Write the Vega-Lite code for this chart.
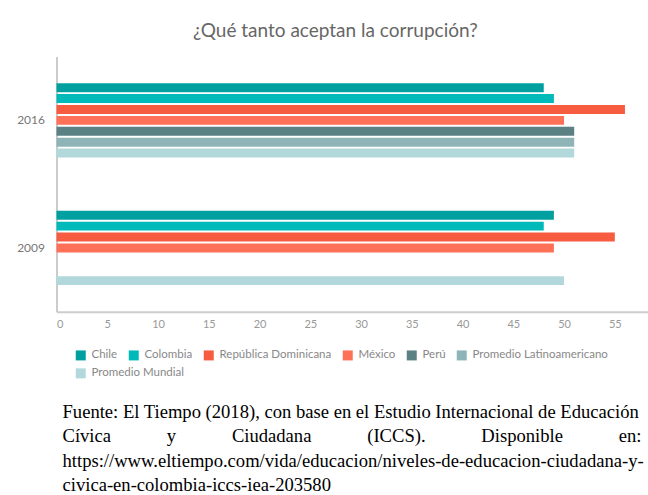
{
  "$schema": "https://vega.github.io/schema/vega-lite/v6.json",
  "autosize": {"type": "none"},
  "padding": {"left": 56.5, "top": 56.6, "right": 0, "bottom": 183.3},
  "width": 591.5,
  "height": 255.1,
  "background": "white",
  "title": {
    "text": "¿Qué tanto aceptan la corrupción?",
    "font": "Lato",
    "fontSize": 19,
    "fontWeight": "normal",
    "color": "#666666",
    "anchor": "middle",
    "frame": "group",
    "dx": -17,
    "offset": 16
  },
  "data": {
    "values": [
      {"year": "2016", "serie": "Chile", "valor": 48},
      {"year": "2016", "serie": "Colombia", "valor": 49},
      {"year": "2016", "serie": "República Dominicana", "valor": 56},
      {"year": "2016", "serie": "México", "valor": 50},
      {"year": "2016", "serie": "Perú", "valor": 51},
      {"year": "2016", "serie": "Promedio Latinoamericano", "valor": 51},
      {"year": "2016", "serie": "Promedio Mundial", "valor": 51},
      {"year": "2009", "serie": "Chile", "valor": 49},
      {"year": "2009", "serie": "Colombia", "valor": 48},
      {"year": "2009", "serie": "República Dominicana", "valor": 55},
      {"year": "2009", "serie": "México", "valor": 49},
      {"year": "2009", "serie": "Promedio Mundial", "valor": 50}
    ]
  },
  "encoding": {
    "y": {
      "field": "year",
      "type": "nominal",
      "scale": {"domain": ["2016", "2009"], "paddingInner": 0, "paddingOuter": 0},
      "axis": {
        "title": null,
        "domain": true,
        "domainColor": "#cccccc",
        "domainWidth": 2,
        "ticks": false,
        "tickSize": 0,
        "labelPadding": 12,
        "labelFont": "Lato",
        "labelFontSize": 12,
        "labelColor": "#777777"
      }
    },
    "yOffset": {
      "field": "serie",
      "type": "nominal",
      "scale": {
        "domain": ["_a", "_b", "Chile", "Colombia", "República Dominicana", "México", "Perú", "Promedio Latinoamericano", "Promedio Mundial", "_c", "_d"],
        "paddingInner": 0.18,
        "paddingOuter": 0.44
      }
    },
    "x": {
      "field": "valor",
      "type": "quantitative",
      "scale": {"domain": [0, 58.27], "nice": false, "zero": true},
      "axis": {
        "values": [0, 5, 10, 15, 20, 25, 30, 35, 40, 45, 50, 55],
        "grid": false,
        "ticks": false,
        "tickSize": 0,
        "domainColor": "#cccccc",
        "domainWidth": 2,
        "labelPadding": 7,
        "labelFont": "Lato",
        "labelFontSize": 11,
        "labelColor": "#999999",
        "title": [
          "Fuente: El Tiempo (2018), con base en el Estudio Internacional de Educación",
          "Cívica\u00a0\u00a0\u00a0\u00a0\u00a0\u00a0\u00a0\u00a0\u00a0\u00a0\u00a0\u00a0y\u00a0\u00a0\u00a0\u00a0\u00a0\u00a0\u00a0\u00a0\u00a0\u00a0\u00a0\u00a0Ciudadana\u00a0\u00a0\u00a0\u00a0\u00a0\u00a0\u00a0\u00a0\u00a0\u00a0\u00a0\u00a0(ICCS).\u00a0\u00a0\u00a0\u00a0\u00a0\u00a0\u00a0\u00a0\u00a0\u00a0\u00a0\u00a0Disponible\u00a0\u00a0\u00a0\u00a0\u00a0\u00a0\u00a0\u00a0\u00a0\u00a0\u00a0\u00a0en:",
          "https://www.eltiempo.com/vida/educacion/niveles-de-educacion-ciudadana-y-",
          "civica-en-colombia-iccs-iea-203580"
        ],
        "titleFont": "Liberation Serif",
        "titleFontSize": 18.6,
        "titleFontWeight": "normal",
        "titleColor": "#000000",
        "titleAlign": "left",
        "titleAnchor": "start",
        "titleBaseline": "alphabetic",
        "titleLineHeight": 24.3,
        "titleX": 5.5,
        "titleY": 106
      }
    }
  },
  "layer": [
    {
      "transform": [{"filter": "datum.serie !== 'Promedio Mundial'"}],
      "mark": {"type": "bar"},
      "encoding": {
        "color": {
          "field": "serie",
          "type": "nominal",
          "scale": {
            "domain": ["Chile", "Colombia", "República Dominicana", "México", "Perú", "Promedio Latinoamericano"],
            "range": ["#00A0A0", "#00B9B9", "#F75C40", "#FF7058", "#5B8184", "#8FB4B7"]
          },
          "legend": {
            "title": null,
            "orient": "none",
            "legendX": 18.5,
            "legendY": 292.7,
            "direction": "horizontal",
            "columnPadding": 10,
            "padding": 0,
            "symbolType": "square",
            "symbolSize": 100,
            "symbolStrokeWidth": 0,
            "symbolOpacity": 1,
            "labelFont": "Lato",
            "labelFontSize": 11.5,
            "labelColor": "#888888",
            "labelOffset": 5,
            "labelLimit": 300
          }
        }
      }
    },
    {
      "transform": [{"filter": "datum.serie === 'Promedio Mundial'"}],
      "mark": {"type": "bar"},
      "encoding": {
        "fill": {
          "field": "serie",
          "type": "nominal",
          "scale": {"domain": ["Promedio Mundial"], "range": ["#B2D8DC"]},
          "legend": {
            "title": null,
            "orient": "none",
            "legendX": 18.5,
            "legendY": 311,
            "direction": "horizontal",
            "padding": 0,
            "symbolType": "square",
            "symbolSize": 100,
            "symbolStrokeWidth": 0,
            "symbolOpacity": 1,
            "labelFont": "Lato",
            "labelFontSize": 11.5,
            "labelColor": "#888888",
            "labelOffset": 5,
            "labelLimit": 300
          }
        }
      }
    }
  ],
  "config": {
    "view": {"stroke": null}
  }
}
